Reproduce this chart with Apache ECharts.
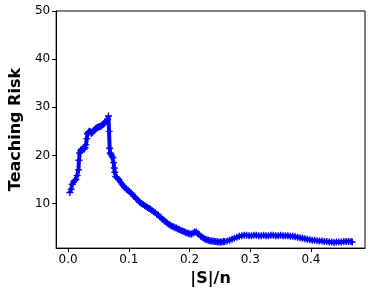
<!DOCTYPE html>
<html>
<head>
<meta charset="utf-8">
<script src="https://cdn.jsdelivr.net/npm/echarts@6/dist/echarts.min.js"></script>
<style>html,body{margin:0;padding:0;background:#fff}#c{width:374px;height:292px}</style>
</head>
<body>
<div id="c"></div>
<script>
const xValues = [
0.003,0.005,0.007,0.009,0.011,0.013,0.015,0.017,0.018,0.019,0.0205,0.022,0.0235,0.025,0.0265,0.028,0.0295,0.031,0.032,0.0335,0.035,0.0365,0.038,0.0395,0.041,0.0425,0.044,0.0455,0.047,0.0485,0.050,0.0515,0.053,0.0545,0.056,0.0575,0.059,0.0605,0.062,0.0635,0.065,0.0665,0.0675,0.0685,0.0695,0.071,0.0725,0.074,0.075,0.076,0.077,
0.0785,0.081,0.0835,0.086,0.0885,0.091,0.0935,0.096,0.0985,0.101,0.1035,0.106,0.1085,0.111,0.1135,0.116,0.1185,0.121,0.1235,0.126,0.1285,0.131,0.1335,0.136,0.1385,0.141,0.1435,0.146,0.1485,0.151,0.1535,0.156,0.1585,0.161,0.1635,0.166,0.1685,0.171,0.1735,0.176,0.1785,0.181,0.1835,0.186,0.1885,0.191,0.1935,0.196,0.1985,0.201,0.2035,0.206,0.2085,0.211,0.2135,0.216,0.2185,0.221,0.2235,0.226,0.2285,0.231,0.2335,0.236,0.2385,0.241,0.2435,0.246,0.2485,0.251,0.2535,0.256,
0.258,0.262,0.266,0.270,0.274,0.278,0.282,0.286,0.290,0.294,0.298,0.302,0.306,0.310,0.314,0.318,0.322,0.326,0.330,0.334,0.338,0.342,0.346,0.350,0.354,0.358,0.362,0.366,0.370,0.374,0.378,0.382,0.386,0.390,0.394,0.398,0.402,0.406,0.410,0.414,0.418,0.422,0.426,0.430,0.434,0.438,0.442,0.446,0.450,0.454,0.458,0.462,0.466,0.468];
const riskValues = [
12.3,13.0,14.0,14.5,14.8,15.0,15.8,17.0,19.0,20.5,21.0,21.3,21.2,21.4,21.3,21.6,22.2,23.5,24.5,24.8,25.0,24.9,24.6,24.7,24.9,25.1,25.4,25.6,25.7,25.8,25.9,26.0,26.0,26.1,26.3,26.4,26.6,26.8,27.0,27.2,27.5,28.2,25.0,21.5,20.5,20.2,19.8,19.5,18.5,17.4,16.5,
15.6,15.3,15.0,14.5,14.1,13.7,13.3,13.0,12.8,12.5,12.2,11.9,11.5,11.2,10.9,10.6,10.2,10.0,9.8,9.6,9.4,9.2,9.0,8.8,8.5,8.3,8.1,7.8,7.6,7.3,7.0,6.7,6.4,6.2,5.9,5.7,5.5,5.3,5.2,5.0,4.9,4.7,4.6,4.4,4.3,4.2,4.0,3.9,3.8,3.7,3.7,3.9,4.1,4.1,3.8,3.5,3.2,3.0,2.8,2.6,2.5,2.4,2.3,2.2,2.2,2.1,2.1,2.0,2.0,2.0,2.0,2.1,
2.1,2.2,2.4,2.6,2.8,3.0,3.2,3.3,3.4,3.4,3.3,3.3,3.4,3.4,3.3,3.3,3.4,3.3,3.3,3.4,3.4,3.3,3.3,3.4,3.3,3.3,3.3,3.2,3.2,3.1,3.0,2.9,2.8,2.7,2.6,2.5,2.4,2.4,2.3,2.2,2.2,2.1,2.1,2.0,2.0,1.9,2.0,2.0,2.0,2.1,2.1,2.1,2.1,2.0];
const xTicks = [0.0,0.1,0.2,0.3,0.4];
const yTicks = [10,20,30,40,50];

const data = xValues.map((x,i)=>[x,riskValues[i]]);
const plus = 'path://M4,0h2v4h4v2h-4v4h-2v-4h-4v-2h4z';
const font = 'DejaVu Sans';
const chart = echarts.init(document.getElementById('c'), null, {renderer:'canvas'});
chart.setOption({
  animation:false,
  grid:{left:46,right:9,top:11,bottom:43,show:true,borderColor:'#000',borderWidth:1,backgroundColor:'transparent'},
  xAxis:{
    type:'value',min:-0.0196,max:0.489,
    name:'|S|/n',nameLocation:'middle',nameGap:19,
    nameTextStyle:{fontFamily:font,fontWeight:'bold',fontSize:16,color:'#000'},
    axisLine:{show:true,onZero:false,lineStyle:{color:'#000',width:1}},
    axisTick:{show:true,customValues:xTicks,length:4,lineStyle:{color:'#000'}},
    axisLabel:{customValues:xTicks,formatter:v=>v.toFixed(1),fontFamily:font,fontSize:12,color:'#000',margin:6},
    splitLine:{show:false}
  },
  yAxis:{
    type:'value',min:0.75,max:50,
    name:'Teaching Risk',nameLocation:'middle',nameGap:24,
    nameTextStyle:{fontFamily:font,fontWeight:'bold',fontSize:16,color:'#000'},
    axisLine:{show:true,onZero:false,lineStyle:{color:'#000',width:1}},
    axisTick:{show:true,customValues:yTicks,length:4,lineStyle:{color:'#000'}},
    axisLabel:{customValues:yTicks,fontFamily:font,fontSize:12,color:'#000',margin:6},
    splitLine:{show:false}
  },
  series:[{
    type:'line',data:data,
    lineStyle:{color:'#0000ff',width:4},
    itemStyle:{color:'#0000ff'},
    symbol:plus,symbolSize:7,showSymbol:true,showAllSymbol:true
  }]
});
</script>
</body>
</html>
